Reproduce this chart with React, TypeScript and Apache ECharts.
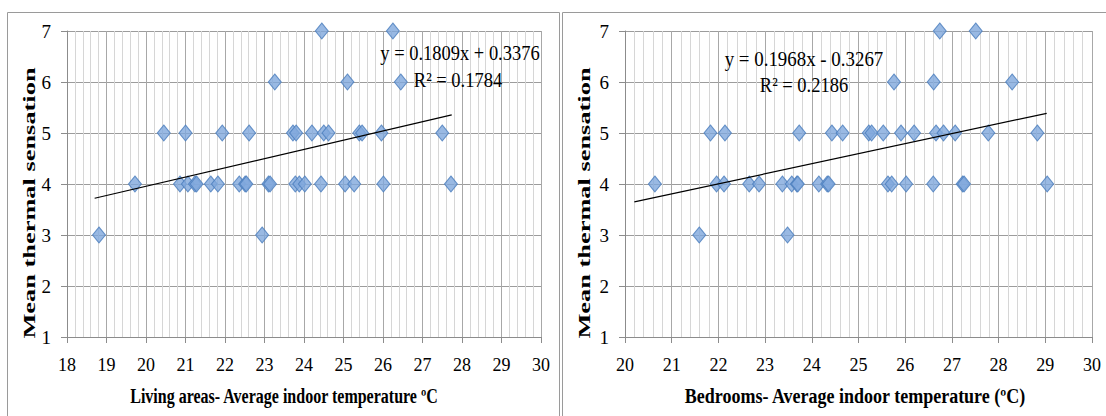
import React, { useEffect, useRef } from "react";
import * as echarts from "echarts";

// Living areas: average indoor temperature (°C) vs mean thermal sensation
const livingTemp = [
  24.45, 26.25,
  23.26, 25.1, 26.45,
  20.45, 21.0, 21.93, 22.61, 23.72, 23.8, 24.2, 24.5, 24.62, 25.4, 25.47, 25.96, 27.5,
  19.72, 20.86, 21.06, 21.24, 21.28, 21.64, 21.82, 22.36, 22.51, 22.54, 23.1, 23.14, 23.78, 23.88, 24.02, 24.43, 25.04, 25.27, 26.01, 27.72,
  18.81, 22.94,
];
const livingSensation = [
  7, 7,
  6, 6, 6,
  5, 5, 5, 5, 5, 5, 5, 5, 5, 5, 5, 5, 5,
  4, 4, 4, 4, 4, 4, 4, 4, 4, 4, 4, 4, 4, 4, 4, 4, 4, 4, 4, 4,
  3, 3,
];

// Bedrooms
const bedroomTemp = [
  26.74, 27.51,
  25.76, 26.61, 28.29,
  21.83, 22.14, 23.73, 24.43, 24.66, 25.22, 25.28, 25.53, 25.91, 26.19, 26.66, 26.82, 27.07, 27.78, 28.83,
  20.64, 21.96, 22.12, 22.66, 22.87, 23.37, 23.57, 23.68, 23.7, 24.15, 24.33, 24.36, 25.63, 25.71, 26.02, 26.6, 27.23, 27.26, 29.04,
  21.59, 23.48,
];
const bedroomSensation = [
  7, 7,
  6, 6, 6,
  5, 5, 5, 5, 5, 5, 5, 5, 5, 5, 5, 5, 5, 5, 5,
  4, 4, 4, 4, 4, 4, 4, 4, 4, 4, 4, 4, 4, 4, 4, 4, 4, 4, 4,
  3, 3,
];

// Linear trendlines (printed equations) and their x extents
const livingTrend = { slope: 0.1809, intercept: 0.3376, r2: 0.1784, xRange: [18.7, 27.74] };
const bedroomTrend = { slope: 0.1968, intercept: -0.3267, r2: 0.2186, xRange: [20.2, 29.03] };

const livingXTicks = [18, 30];
const bedroomXTicks = [20, 30];
const yTicks = [1, 7];

const FONT = "Liberation Serif";

const pairs = (xs: number[], ys: number[]) => xs.map((x, i) => [x, ys[i]]);
const trendPoints = (t: { slope: number; intercept: number; xRange: number[] }) =>
  t.xRange.map((x) => [x, t.slope * x + t.intercept]);

const xAxisBase = (gridIndex: number, range: number[]) => ({
  type: "value",
  gridIndex,
  min: range[0],
  max: range[1],
  interval: 1,
  axisLine: { show: true, lineStyle: { color: "#8c8c8c", width: 1 } },
  axisTick: { show: true, inside: false, length: 6, lineStyle: { color: "#8c8c8c" } },
  minorTick: { show: false, splitNumber: 5 },
  axisLabel: { color: "#000", fontFamily: FONT, fontSize: 18, margin: 19 },
  splitLine: { show: true, lineStyle: { color: "#a8a8a8", width: 1 } },
  minorSplitLine: { show: true, lineStyle: { color: "#d6d6d6", width: 1 } },
});

const yAxisBase = (gridIndex: number) => ({
  type: "value",
  gridIndex,
  min: yTicks[0],
  max: yTicks[1],
  interval: 1,
  axisLine: { show: true, lineStyle: { color: "#8c8c8c", width: 1 } },
  axisTick: { show: true, inside: false, length: 6, lineStyle: { color: "#8c8c8c" } },
  axisLabel: { color: "#000", fontFamily: FONT, fontSize: 19, margin: 16 },
  splitLine: { show: true, lineStyle: { color: "#9c9c9c", width: 1 } },
});

const scatterStyle = {
  type: "scatter",
  symbol: "diamond",
  symbolSize: [13, 16],
  itemStyle: { color: "#7fa7dc", borderColor: "#4a7dbd", borderWidth: 1 },
  z: 3,
};

const lineStyle = {
  type: "line",
  showSymbol: false,
  symbol: "none",
  lineStyle: { color: "#000", width: 1.2 },
  z: 5,
};

const fmt = (v: number) => v.toFixed(4);
const eqText = (t: { slope: number; intercept: number }) =>
  `y = ${fmt(t.slope)}x ${t.intercept < 0 ? "-" : "+"} ${fmt(Math.abs(t.intercept))}`;

const text = (
  x: number,
  y: number,
  str: string,
  size: number,
  bold: boolean,
  extra: Record<string, unknown> = {}
) => ({
  type: "text",
  x,
  y,
  z: 10,
  ...extra,
  style: {
    text: str,
    fontFamily: FONT,
    fontSize: size,
    fontWeight: bold ? "bold" : "normal",
    fill: "#000",
    align: "center",
    verticalAlign: "middle",
  },
});

export default function App() {
  const ref = useRef<HTMLDivElement>(null);

  useEffect(() => {
    if (!ref.current) return;
    const chart = echarts.init(ref.current, undefined, { renderer: "svg" });
    chart.setOption({
      animation: false,
      backgroundColor: "#fff",
      textStyle: { fontFamily: FONT },
      grid: [
        { left: 67, top: 31, width: 474, height: 306 },
        { left: 625, top: 31, width: 467, height: 306 },
      ],
      xAxis: [xAxisBase(0, livingXTicks), xAxisBase(1, bedroomXTicks)],
      yAxis: [yAxisBase(0), yAxisBase(1)],
      series: [
        { ...scatterStyle, xAxisIndex: 0, yAxisIndex: 0, data: pairs(livingTemp, livingSensation) },
        { ...lineStyle, xAxisIndex: 0, yAxisIndex: 0, data: trendPoints(livingTrend) },
        { ...scatterStyle, xAxisIndex: 1, yAxisIndex: 1, data: pairs(bedroomTemp, bedroomSensation) },
        { ...lineStyle, xAxisIndex: 1, yAxisIndex: 1, data: trendPoints(bedroomTrend) },
      ],
      graphic: [
        {
          type: "rect",
          z: 0,
          shape: { x: 7.5, y: 12.5, width: 552, height: 420 },
          style: { fill: "none", stroke: "#9a9a9a", lineWidth: 1 },
        },
        {
          type: "rect",
          z: 0,
          shape: { x: 562.5, y: 12.5, width: 560, height: 420 },
          style: { fill: "none", stroke: "#9a9a9a", lineWidth: 1 },
        },
        text(29, 203, "Mean thermal sensation", 20, true, { rotation: Math.PI / 2, scaleX: 1.32, scaleY: 0.85 }),
        text(584, 203, "Mean thermal sensation", 20, true, { rotation: Math.PI / 2, scaleX: 1.32, scaleY: 0.85 }),
        text(284, 396, "Living areas- Average indoor temperature ºC", 20, true, { scaleX: 0.8 }),
        text(855, 396, "Bedrooms- Average indoor temperature (ºC)", 20, true, { scaleX: 0.9 }),
        text(460, 53, eqText(livingTrend), 21, false, { scaleX: 0.88 }),
        text(458, 80, `R² = ${fmt(livingTrend.r2)}`, 21, false, { scaleX: 0.88 }),
        text(804, 59, eqText(bedroomTrend), 21, false, { scaleX: 0.9 }),
        text(804, 85, `R² = ${fmt(bedroomTrend.r2)}`, 21, false, { scaleX: 0.88 }),
      ],
    });
    return () => chart.dispose();
  }, []);

  return (
    <div
      ref={ref}
      style={{ position: "absolute", left: 0, top: 0, width: 1106, height: 416, background: "#fff" }}
    />
  );
}
